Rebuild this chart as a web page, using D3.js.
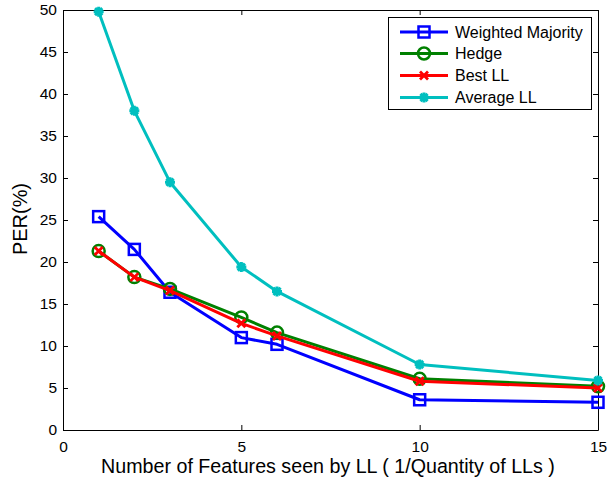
<!DOCTYPE html>
<html><head><meta charset="utf-8">
<script src="https://cdn.jsdelivr.net/npm/d3@7"></script>
<style>body{margin:0;background:#fff}svg{display:block;font-family:"Liberation Sans",Arial,sans-serif}</style>
</head><body>
<svg id="c" width="616" height="481"></svg>
<script>
const xValues = [1, 2, 3, 5, 6, 10, 15];
const weightedMajority = [25.4, 21.5, 16.4, 11.0, 10.2, 3.6, 3.3];
const hedge = [21.3, 18.2, 16.8, 13.4, 11.6, 6.1, 5.2];
const bestLL = [21.3, 18.2, 16.6, 12.7, 11.2, 5.8, 5.0];
const averageLL = [49.8, 38.0, 29.5, 19.4, 16.5, 7.8, 5.9];
const seriesNames = ["Weighted Majority", "Hedge", "Best LL", "Average LL"];
const xTicks = [0, 5, 10, 15];
const yTicks = [0, 5, 10, 15, 20, 25, 30, 35, 40, 45, 50];

const series = [
  {name: seriesNames[0], values: weightedMajority, color: "#0000ff", marker: "square"},
  {name: seriesNames[1], values: hedge, color: "#008000", marker: "circle"},
  {name: seriesNames[2], values: bestLL, color: "#ff0000", marker: "x"},
  {name: seriesNames[3], values: averageLL, color: "#00bfbf", marker: "star"}
];

const svg = d3.select("#c");
const L = 63, R = 598, T = 10, B = 430;
const x = d3.scaleLinear().domain([0, 15]).range([L, R]);
const y = d3.scaleLinear().domain([0, 50]).range([B, T]);

const axG = svg.append("g");
const tl = 5;
axG.append("g").attr("transform", `translate(0,${B})`)
  .call(d3.axisBottom(x).tickValues(xTicks).tickSizeInner(-tl).tickSizeOuter(0).tickPadding(11).tickFormat(d3.format("d")));
axG.append("g").attr("transform", `translate(0,${T})`)
  .call(d3.axisTop(x).tickValues(xTicks).tickSizeInner(-tl).tickSizeOuter(0).tickFormat(""));
axG.append("g").attr("transform", `translate(${L},0)`)
  .call(d3.axisLeft(y).tickValues(yTicks).tickSizeInner(-tl).tickSizeOuter(0).tickPadding(6).tickFormat(d3.format("d")));
axG.append("g").attr("transform", `translate(${R},0)`)
  .call(d3.axisRight(y).tickValues(yTicks).tickSizeInner(-tl).tickSizeOuter(0).tickFormat(""));
axG.selectAll(".domain").attr("stroke", "#000").attr("stroke-width", 1);
axG.selectAll(".tick line").attr("stroke", "#000");
axG.selectAll(".tick text").attr("font-size", 15.5).attr("fill", "#000").attr("font-family", "'Liberation Sans',Arial,sans-serif");

const line = d3.line().x((d, i) => x(xValues[i])).y(d => y(d));

function drawMarker(g, type, color, cx, cy) {
  if (type === "square") {
    g.append("rect").attr("x", cx - 5.5).attr("y", cy - 5.5).attr("width", 11).attr("height", 11)
      .attr("fill", "none").attr("stroke", color).attr("stroke-width", 2.5);
  } else if (type === "circle") {
    g.append("circle").attr("cx", cx).attr("cy", cy).attr("r", 6)
      .attr("fill", "none").attr("stroke", color).attr("stroke-width", 2.5);
  } else if (type === "x") {
    const s = 4;
    g.append("path").attr("d", `M${cx-s},${cy-s}L${cx+s},${cy+s}M${cx-s},${cy+s}L${cx+s},${cy-s}`)
      .attr("stroke", color).attr("stroke-width", 2.8).attr("fill", "none");
  } else if (type === "star") {
    const s = 5;
    g.append("path").attr("d", `M${cx-s},${cy}L${cx+s},${cy}M${cx},${cy-s}L${cx},${cy+s}M${cx-3.6},${cy-3.6}L${cx+3.6},${cy+3.6}M${cx-3.6},${cy+3.6}L${cx+3.6},${cy-3.6}`)
      .attr("stroke", color).attr("stroke-width", 3).attr("fill", "none");
  }
}

const plotG = svg.append("g");
series.forEach(s => {
  plotG.append("path").datum(s.values).attr("d", line)
    .attr("fill", "none").attr("stroke", s.color).attr("stroke-width", 3).attr("stroke-linejoin", "round");
  s.values.forEach((v, i) => drawMarker(plotG, s.marker, s.color, x(xValues[i]), y(v)));
});

// legend
const lg = svg.append("g");
lg.append("rect").attr("x", 388.5).attr("y", 17.5).attr("width", 203).attr("height", 92)
  .attr("fill", "#fff").attr("stroke", "#000").attr("stroke-width", 1);
const rowY = [32, 53.5, 75.5, 97.5];
series.forEach((s, i) => {
  lg.append("line").attr("x1", 400).attr("x2", 448).attr("y1", rowY[i]).attr("y2", rowY[i])
    .attr("stroke", s.color).attr("stroke-width", 3);
  drawMarker(lg, s.marker, s.color, 424, rowY[i]);
  lg.append("text").attr("x", 455).attr("y", rowY[i] + 5.5).attr("font-size", 16).text(s.name);
});

function fitText(sel, target) {
  const w = sel.node().getComputedTextLength();
  const fs = parseFloat(sel.attr("font-size"));
  sel.attr("font-size", fs * target / w);
}
const xl = svg.append("text").attr("x", 328).attr("y", 473).attr("text-anchor", "middle").attr("font-size", 18)
  .text("Number of Features seen by LL ( 1/Quantity of LLs )");
fitText(xl, 454);
const yl = svg.append("text").attr("transform", "translate(27,219) rotate(-90)").attr("text-anchor", "middle").attr("font-size", 18)
  .text("PER(%)");
fitText(yl, 72);
</script>
</body></html>
